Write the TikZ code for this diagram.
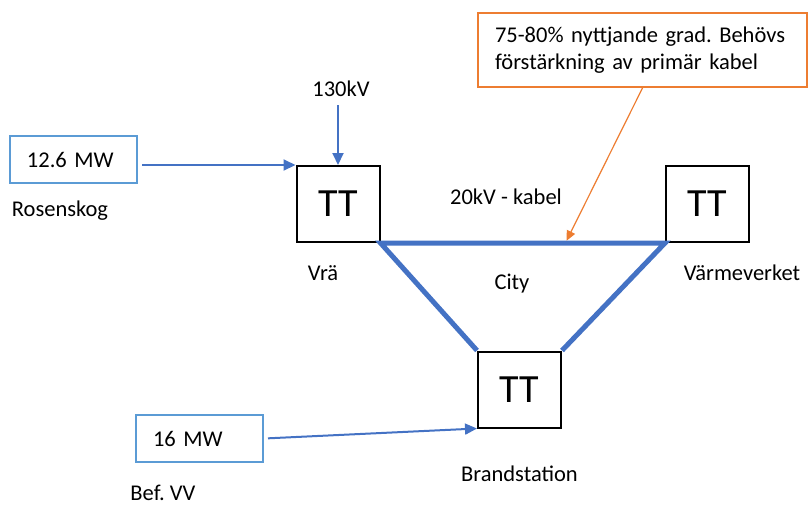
\documentclass[tikz,border=0pt]{standalone}
\usepackage{fontspec}
\setmainfont{Carlito}
\usepackage{xcolor}
\usepackage{tikz}
\usetikzlibrary{positioning}
\usetikzlibrary{calc,arrows.meta}
\definecolor{kabelblue}{HTML}{4472C4}
\definecolor{ramblue}{HTML}{5B9BD5}
\definecolor{notorange}{HTML}{ED7D31}
\frenchspacing
\tikzset{
  txt/.style = {inner sep=0pt, font=\fontsize{22.5}{27}\selectfont},
  tt_n/.style = {rectangle, draw=black, line width=2pt, inner sep=0pt,
    minimum width=83pt, minimum height=76pt,
    font=\fontsize{40}{48}\selectfont},% transformatorstation
  mw_b/.style = {txt, rectangle, draw=ramblue, line width=2pt,
    text width=93pt, inner xsep=17pt, minimum height=47pt,
    align=left},% inmatad effekt
  note_o/.style = {txt, rectangle, draw=notorange, line width=2pt,
    text width=295pt, inner xsep=17pt, minimum height=74pt,
    align=left},% kommentar
  kabel/.style = {kabelblue, line width=5pt, line join=miter},% 20kV-slinga
  matn/.style = {->, kabelblue, line width=2pt},% matning
  note_a/.style = {->, notorange, line width=1.2pt}% kommentarpil
}

\begin{document}
\begin{tikzpicture}[x=1pt,y=-1pt,>={Triangle[length=12pt,width=11pt]}]
\useasboundingbox (0,0) rectangle (808,507);
% stationer
\node [tt_n] (vra) at (338,204) {TT};
\node [tt_n] (varme) at (707.5,204) {TT};
\node [tt_n] (brand) at (519.5,389.5) {TT};
\node [txt] (vralbl) at (323,273) {Vrä};
\node [txt] (varmelbl) at (742,273) {Värmeverket};
\node [txt, below=37pt of brand] (brandlbl) {Brandstation};
% 20kV-slingan
\draw [kabel] (brand.north west) -- (vra.south east) -- (varme.south west)
  -- (brand.north east);
\node [txt] (kabellbl) at (506,197) {20kV - kabel};
\node [txt] (city) at (512,284) {City};
% matningar
\node [mw_b] (mw126) at (73.5,159.5) {12.6 MW};
\node [txt] (rosen) at (60,211) {Rosenskog};
\node [mw_b] (mw16) at (199.5,438.5) {16 MW};
\node [txt] (bef) at (163,493) {Bef. VV};
\node [txt] (kv130) at (341,89) {130kV};
\draw [matn, shorten <=4pt] (mw126.east |- vra.north west) -- (vra.north west);
\draw [matn, shorten <=4pt] (mw16.east) -- (brand.south west);
\draw [matn, shorten <=8pt] (kv130.south -| vra.north) -- (vra.north);
% kommentar
\node [note_o] (note) at (642.5,50) {75-80\% nyttjande grad. Behövs\\
  förstärkning av primär kabel};
\coordinate (hit) at ($(vra.south east)!0.65!(varme.south west)$);
\draw [note_a, >={Triangle[length=10pt,width=9pt]}, shorten >=2.5pt]
  (note.south) -- (hit);
\end{tikzpicture}
\end{document}
